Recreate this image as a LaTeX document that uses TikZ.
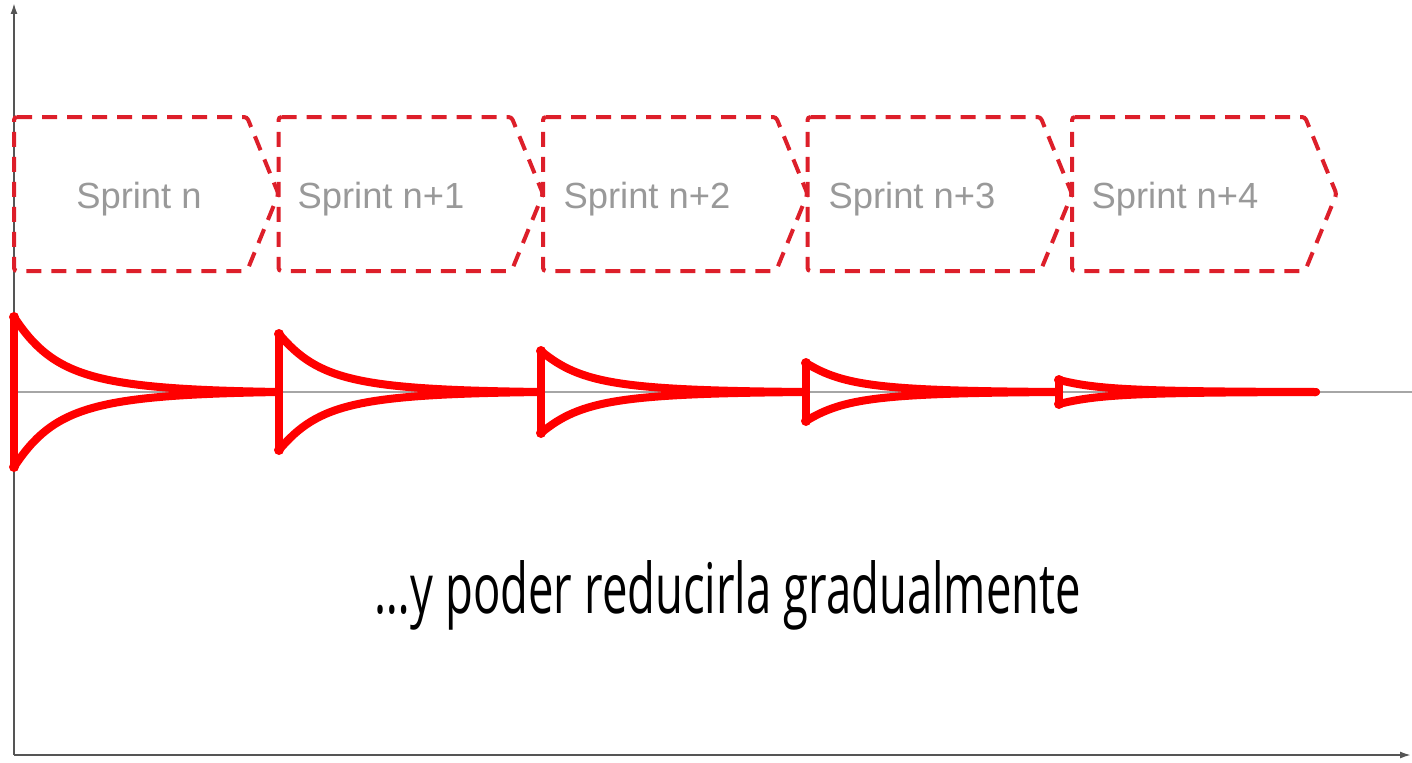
\documentclass[tikz,border=0pt]{standalone}
\usepackage{fontspec}
\usepackage{graphicx}
\setmainfont{Liberation Sans}
\newfontfamily\capfont{Open Sans}
\usetikzlibrary{arrows.meta,calc}
\definecolor{dashred}{HTML}{DD1F2A}
\definecolor{penred}{HTML}{FF0000}
\definecolor{labelgray}{HTML}{999999}
\definecolor{axisgray}{HTML}{555555}
\definecolor{midgray}{HTML}{A6A6A6}
\newcommand{\sflat}{233}
\newcommand{\stip}{31.5}
% sprint chevron: left x, label x, label, name
\newcommand{\sprintbox}[4]{
  \draw [sprint] (#1,117) -- ++(\sflat,0) -- ++(\stip,77) -- ++(-\stip,77) -- ++(-\sflat,0) -- cycle;
  \node [sprintlabel] (#4) at (#2,208) {#3};
}
% funnel: start x, half height, end x, name
\newcommand{\funnel}[4]{
  \coordinate (#4t) at (#1,392-#2);
  \coordinate (#4b) at (#1,392+#2);
  \coordinate (#4e) at (#3,392);
  \draw [pen] (#4t) -- (#4b);
  \draw [pen] (#4t) .. controls ({#1+0.15*(#3-#1)},{392-0.2*#2})
    and ({#1+0.3*(#3-#1)},{392-0.04*#2}) .. (#4e);
  \draw [pen] (#4b) .. controls ({#1+0.15*(#3-#1)},{392+0.2*#2})
    and ({#1+0.3*(#3-#1)},{392+0.04*#2}) .. (#4e);
  \fill [penred] (#4t) circle (5) (#4b) circle (5);
}

\begin{document}
\begin{tikzpicture}[x=1bp,y=-1bp,>={Latex[length=11bp,width=7bp]},
  sprint/.style={draw=dashred,line width=4bp,dash pattern=on 15bp off 10bp,rounded corners=3bp},
  sprintlabel/.style={text=labelgray,anchor=base,inner sep=0pt,font=\fontsize{36.5}{40}\selectfont},
  pen/.style={draw=penred,line width=8bp,line cap=round,line join=round},
  axis/.style={draw=axisgray,line width=1.8bp}]
  \useasboundingbox (0,0) rectangle (1412,762);

  % axes
  \coordinate (origin) at (14,755);
  \coordinate (ytop) at (14,3);
  \coordinate (xend) at (1411,755);
  \draw [axis,->] (origin) -- (ytop);
  \draw [axis,->] (origin) -- (xend);

  % baseline through the funnels
  \coordinate (mid0) at (14,392);
  \coordinate (mid1) at (1412,392);
  \draw [midgray,line width=1.6bp] (mid0) -- (mid1);

  \sprintbox{14}{139}{Sprint n}{s0}
  \sprintbox{278.5}{381}{Sprint n+1}{s1}
  \sprintbox{543}{647}{Sprint n+2}{s2}
  \sprintbox{807.5}{912}{Sprint n+3}{s3}
  \sprintbox{1072}{1175}{Sprint n+4}{s4}

  \funnel{14}{75}{279}{f0}
  \funnel{279}{58}{541}{f1}
  \funnel{541}{41}{806}{f2}
  \funnel{806}{29}{1059}{f3}
  \funnel{1059}{12}{1316}{f4}

  \node [anchor=base,inner sep=0pt] (caption) at (728,613)
    {\resizebox{706bp}{\height}{\capfont\fontsize{70}{80}\selectfont …y poder reducirla gradualmente}};
\end{tikzpicture}
\end{document}
